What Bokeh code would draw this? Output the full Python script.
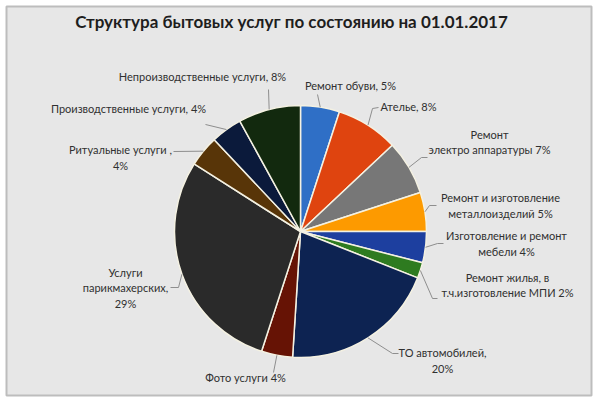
import math
from bokeh.plotting import figure
from bokeh.models import ColumnDataSource, Range1d
from bokeh.core.properties import value
from bokeh.embed import file_html
from bokeh.resources import INLINE

# ---------------- data ----------------
title_text = "Структура бытовых услуг по состоянию на 01.01.2017"
categories = [
    "Ремонт обуви",
    "Ателье",
    "Ремонт\nэлектро аппаратуры",
    "Ремонт и изготовление\nметаллоизделий",
    "Изготовление и ремонт\nмебели",
    "Ремонт жилья, в\nт.ч.изготовление МПИ",
    "ТО автомобилей",
    "Фото услуги",
    "Услуги\nпарикмахерских",
    "Ритуальные услуги",
    "Производственные услуги",
    "Непроизводственные услуги",
]
separators = [", ", ", ", " ", " ", " ", " ", ",\n", " ", ",\n", " ,\n", ", ", ", "]
shares = [5, 8, 7, 5, 4, 2, 20, 4, 29, 4, 4, 8]
colors = [
    "#2f6fc6", "#df440f", "#777777", "#fd9a00", "#1d3f9f", "#2e7b20",
    "#0d2352", "#661305", "#2a2a2a", "#583508", "#0b1a3b", "#12290e",
]

# ---------------- layout (page pixel coordinates) ----------------
CW, CH = 597, 401            # canvas
FL, FT, FR, FB = 6, 6, 591, 395   # chart frame in page pixels
W, H = FR - FL, FB - FT
def px(x): return x - FL
def py(y): return FB - y

CX, CY, R = 300, 231, 126
LINE_STEP = 15.5
# label block centres
label_pos = [(350, 85), (408, 106), (489, 141.5), (500, 205), (506, 243),
             (507, 284.5), (442, 360), (245, 377), (125, 287), (120, 157),
             (128, 108), (202, 76)]
# leader points after the slice edge point
leader_pts = [
    [(317, 94)],
    [(372, 108), (378, 107)],
    [(421, 157), (427, 157)],
    [(429, 205), (436, 205)],
    [(437, 243), (443, 243)],
    [(432, 298), (437, 298)],
    [(392, 353), (398, 353)],
    [(273, 372)],
    [(178, 287), (170, 287)],
    [(173, 151)],
    [(205, 124)],
    [(268, 89)],
]

total = float(sum(shares))
starts, ends, mids = [], [], []
c = 0.0
for v in shares:
    a0 = math.pi / 2 - 2 * math.pi * c / total
    c += v
    a1 = math.pi / 2 - 2 * math.pi * c / total
    starts.append(a0)
    ends.append(a1)
    mids.append((a0 + a1) / 2)

p = figure(width=CW, height=CH, output_backend="svg", toolbar_location=None,
           x_range=Range1d(0, W), y_range=Range1d(0, H),
           min_border_left=FL, min_border_top=FT,
           min_border_right=CW - FR, min_border_bottom=CH - FB,
           x_axis_location=None, y_axis_location=None)
p.grid.visible = False
p.background_fill_color = "#e7e7e7"
p.border_fill_color = "#ffffff"
p.outline_line_color = "#bdbdbd"
p.outline_line_width = 2

src = ColumnDataSource(dict(start=starts, end=ends, color=colors))
p.wedge(x=px(CX), y=py(CY), radius=R, start_angle="start", end_angle="end",
        direction="clock", fill_color="color", line_color="#f4f1e2",
        line_width=1.5, source=src)

xs, ys = [], []
for m, pts in zip(mids, leader_pts):
    ex = px(CX) + R * math.cos(m)
    ey = py(CY) + R * math.sin(m)
    xs.append([ex] + [px(a) for a, b in pts])
    ys.append([ey] + [py(b) for a, b in pts])
p.multi_line(xs, ys, line_color="#8e8e8e", line_width=1)

labels = [f"{n}{s}{v}%" for n, s, v in zip(categories, separators, shares)]
tx, ty, tt = [], [], []
for lab, (bx, by) in zip(labels, label_pos):
    lines = lab.split("\n")
    n = len(lines)
    for i, ln in enumerate(lines):
        tx.append(px(bx))
        ty.append(py(by + (i - (n - 1) / 2) * LINE_STEP))
        tt.append(ln)
lsrc = ColumnDataSource(dict(x=tx, y=ty, t=tt))
p.text(x="x", y="y", text="t", source=lsrc, text_font=value("Lato"),
       text_font_size="11px", text_color="#303030", text_align="center",
       text_baseline="middle")

p.text(x=[px(291)], y=[py(21)], text=[title_text], text_font=value("Lato"),
       text_font_size="17px", text_font_style="bold", text_color="#1e1e1e",
       text_align="center", text_baseline="middle")

open("out.html", "w").write(file_html(p, INLINE))
